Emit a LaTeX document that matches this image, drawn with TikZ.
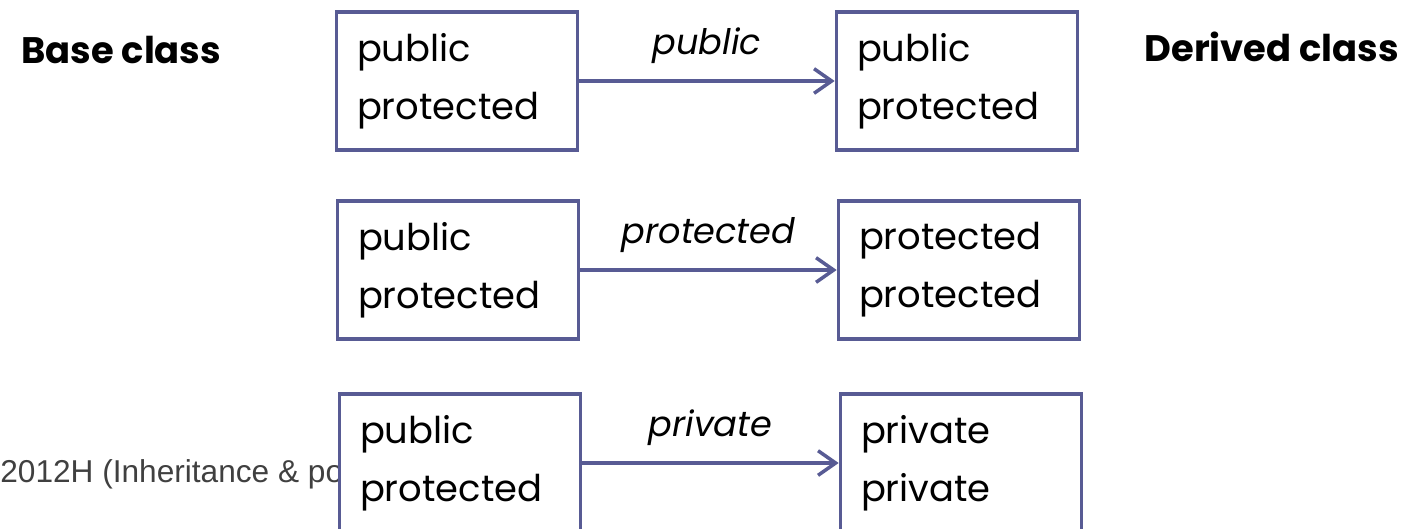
\documentclass[tikz,border=0pt]{standalone}
\usepackage{fontspec}
\setmainfont{Poppins}
\newfontfamily\footfont{Liberation Sans}
\usetikzlibrary{arrows.meta,positioning}
\definecolor{inh-line}{HTML}{585B94}
\definecolor{inh-foot}{HTML}{404040}

\begin{document}
\begin{tikzpicture}[
    x=0.02cm, y=-0.02cm,
    >={Straight Barb[length=10pt,width=14pt,line width=2pt]},
    box/.style={draw=inh-line, line width=2.1pt, fill=white, minimum width=4.82cm, minimum height=2.76cm, text width=4.0cm, inner xsep=0.4cm, align=left, font=\fontsize{21}{33}\selectfont},
    conn/.style={->, draw=inh-line, line width=2pt},
    acc/.style={anchor=base, yshift=0.54cm, font=\fontsize{20}{24}\selectfont\itshape},
    title/.style={font=\fontsize{21}{26}\selectfont\bfseries},
    foot/.style={anchor=base west, inner sep=0pt, text=inh-foot, font=\footfont\fontsize{18}{20}\selectfont}
]
\useasboundingbox (0,0) rectangle (1415,528);

% =========================================================================
% TITULOS
% =========================================================================
\node[title, anchor=base west] (base) at (15,63) {Base class};
\node[title, anchor=base east] (derived) at (1405,61) {Derived class};

% rodape (cortado pela caixa de baixo)
\node[foot] (footer) at (0,482) {2012H (Inheritance \& po};

% =========================================================================
% HERANCA PUBLICA
% =========================================================================
\node[box] (pub-l) at (457,81) {public\\protected};
\node[box] (pub-r) at (957,81) {public\\protected};
\draw[conn] (pub-l) -- node[acc] {public} (pub-r);

% =========================================================================
% HERANCA PROTEGIDA
% =========================================================================
\node[box] (prot-l) at (458,270) {public\\protected};
\node[box] (prot-r) at (959,270) {protected\\protected};
\draw[conn] (prot-l) -- node[acc] {protected} (prot-r);

% =========================================================================
% HERANCA PRIVADA
% =========================================================================
\node[box] (priv-l) at (460,463) {public\\protected};
\node[box] (priv-r) at (961,463) {private\\private};
\draw[conn] (priv-l) -- node[acc] {private} (priv-r);

\end{tikzpicture}
\end{document}
